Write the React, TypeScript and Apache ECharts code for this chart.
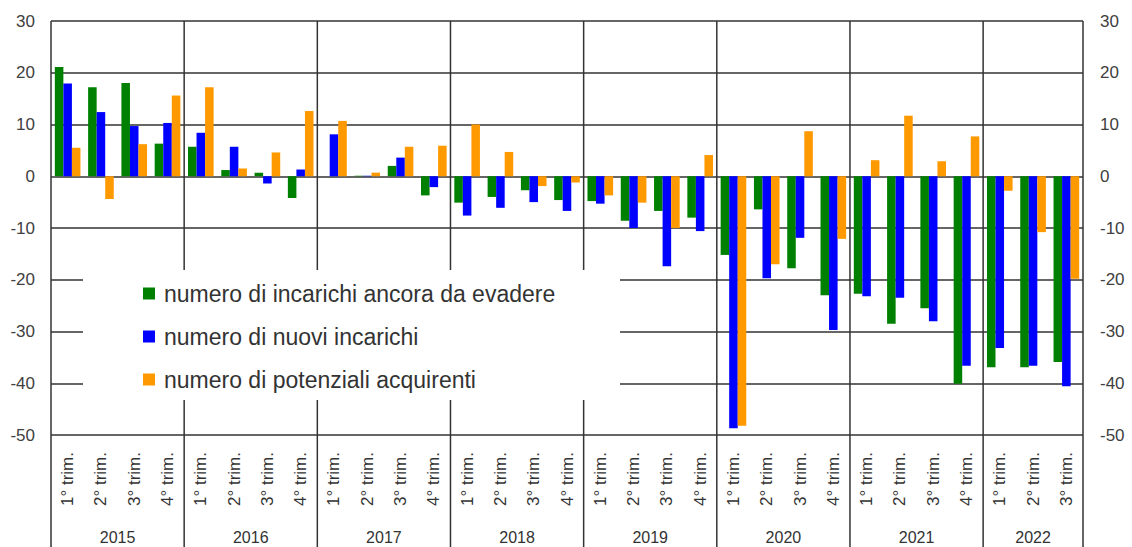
import React, { useEffect, useRef } from "react";
import * as echarts from "echarts";

const years = ["2015", "2016", "2017", "2018", "2019", "2020", "2021", "2022"];
const quartersPerYear = [4, 4, 4, 4, 4, 4, 4, 3];
const quarterLabels = ["1° trim.", "2° trim.", "3° trim.", "4° trim."];

const seriesNames = [
  "numero di incarichi ancora da evadere",
  "numero di nuovi incarichi",
  "numero di potenziali acquirenti",
];

const incarichiDaEvadere = [
  21.1, 17.2, 18.0, 6.3,
  5.7, 1.2, 0.7, -4.2,
  0.0, 0.1, 2.0, -3.7,
  -5.1, -4.0, -2.7, -4.6,
  -4.8, -8.6, -6.7, -8.0,
  -15.2, -6.4, -17.8, -23.0,
  -22.7, -28.5, -25.5, -40.1,
  -36.9, -36.9, -35.9,
];
const nuoviIncarichi = [
  17.9, 12.4, 9.7, 10.3,
  8.4, 5.7, -1.4, 1.3,
  8.1, 0.1, 3.6, -2.1,
  -7.6, -6.1, -5.0, -6.7,
  -5.3, -10.0, -17.4, -10.6,
  -48.7, -19.7, -11.9, -29.7,
  -23.2, -23.5, -28.0, -36.6,
  -33.2, -36.6, -40.6,
];
const potenzialiAcquirenti = [
  5.5, -4.4, 6.2, 15.6,
  17.2, 1.5, 4.6, 12.6,
  10.7, 0.7, 5.7, 5.9,
  10.0, 4.7, -1.9, -1.2,
  -3.7, -5.1, -10.0, 4.1,
  -48.2, -17.0, 8.7, -12.1,
  3.1, 11.7, 2.9, 7.7,
  -2.8, -10.8, -19.8,
];

const yMin = -50;
const yMax = 30;
const yStep = 10;

const colors = ["#008000", "#0000ff", "#ff9900"];

const categories: string[] = [];
years.forEach((y, i) => {
  for (let q = 0; q < quartersPerYear[i]; q++) categories.push(quarterLabels[q]);
});

const FONT = "'Liberation Sans', Arial, sans-serif";
const LINE = "#333333";

export default function App() {
  const ref = useRef<HTMLDivElement>(null);
  useEffect(() => {
    if (!ref.current) return;
    document.body.style.margin = "0";
    const chart = echarts.init(ref.current, null, { renderer: "svg" });
    const yAxisBase = {
      type: "value" as const,
      min: yMin,
      max: yMax,
      interval: yStep,
      axisLine: { show: false },
      axisTick: { show: false },
    };
    chart.setOption({
      animation: false,
      backgroundColor: "#ffffff",
      textStyle: { fontFamily: FONT },
      grid: { left: 51, right: 49, top: 21, bottom: 112, containLabel: false },
      legend: {
        orient: "vertical",
        left: 138,
        top: 277,
        itemWidth: 12,
        itemHeight: 12,
        itemGap: 20,
        icon: "rect",
        z: 5,
        textStyle: {
          fontFamily: FONT,
          fontSize: 23,
          color: "#333333",
          lineHeight: 22,
          padding: [0, 0, 0, 4],
        },
        data: seriesNames,
      },
      xAxis: {
        type: "category",
        data: categories,
        axisLine: { show: false },
        axisTick: { show: false },
        splitLine: { show: false },
        axisLabel: {
          interval: 0,
          rotate: 90,
          margin: 17,
          fontSize: 17,
          color: "#333333",
          fontFamily: FONT,
        },
      },
      yAxis: [
        {
          ...yAxisBase,
          position: "left",
          splitLine: { show: true, lineStyle: { color: LINE, width: 1.5 } },
          axisLabel: { margin: 16, fontSize: 17, color: "#404040", fontFamily: FONT },
        },
        {
          ...yAxisBase,
          position: "right",
          splitLine: { show: false },
          axisLabel: { margin: 17, fontSize: 17, color: "#404040", fontFamily: FONT },
        },
      ],
      series: [incarichiDaEvadere, nuoviIncarichi, potenzialiAcquirenti].map((d, i) => ({
        name: seriesNames[i],
        type: "bar",
        data: d,
        itemStyle: { color: colors[i] },
        barGap: "0%",
        barCategoryGap: "23%",
        z: 2,
      })),
    });

    const px = (i: number) => chart.convertToPixel({ xAxisIndex: 0 }, i) as number;
    const py = (v: number) => chart.convertToPixel({ yAxisIndex: 0 }, v) as number;
    const bw = px(1) - px(0);
    const top = py(yMax);
    const bottom = chart.getHeight();
    const graphics: any[] = [];
    let start = 0;
    const boundaries: number[] = [px(0) - bw / 2];
    years.forEach((y, i) => {
      const end = start + quartersPerYear[i] - 1;
      boundaries.push(px(end) + bw / 2);
      graphics.push({
        type: "text",
        x: (px(start) + px(end)) / 2,
        y: 537,
        z: 1,
        style: {
          text: y,
          fill: "#333333",
          fontSize: 16,
          fontFamily: FONT,
          align: "center",
          verticalAlign: "middle",
        },
      });
      start = end + 1;
    });
    boundaries.forEach((bx) => {
      graphics.push({
        type: "line",
        z: 1,
        shape: { x1: bx, y1: top, x2: bx, y2: bottom },
        style: { stroke: LINE, lineWidth: 1.5 },
      });
    });
    graphics.push({
      type: "rect",
      z: 3,
      shape: { x: 83, y: 270, width: 537, height: 130 },
      style: { fill: "#ffffff" },
    });
    chart.setOption({ graphic: graphics });

    return () => chart.dispose();
  }, []);
  return (
    <div
      ref={ref}
      style={{ position: "fixed", left: 0, top: 0, width: 1132, height: 547 }}
    />
  );
}
